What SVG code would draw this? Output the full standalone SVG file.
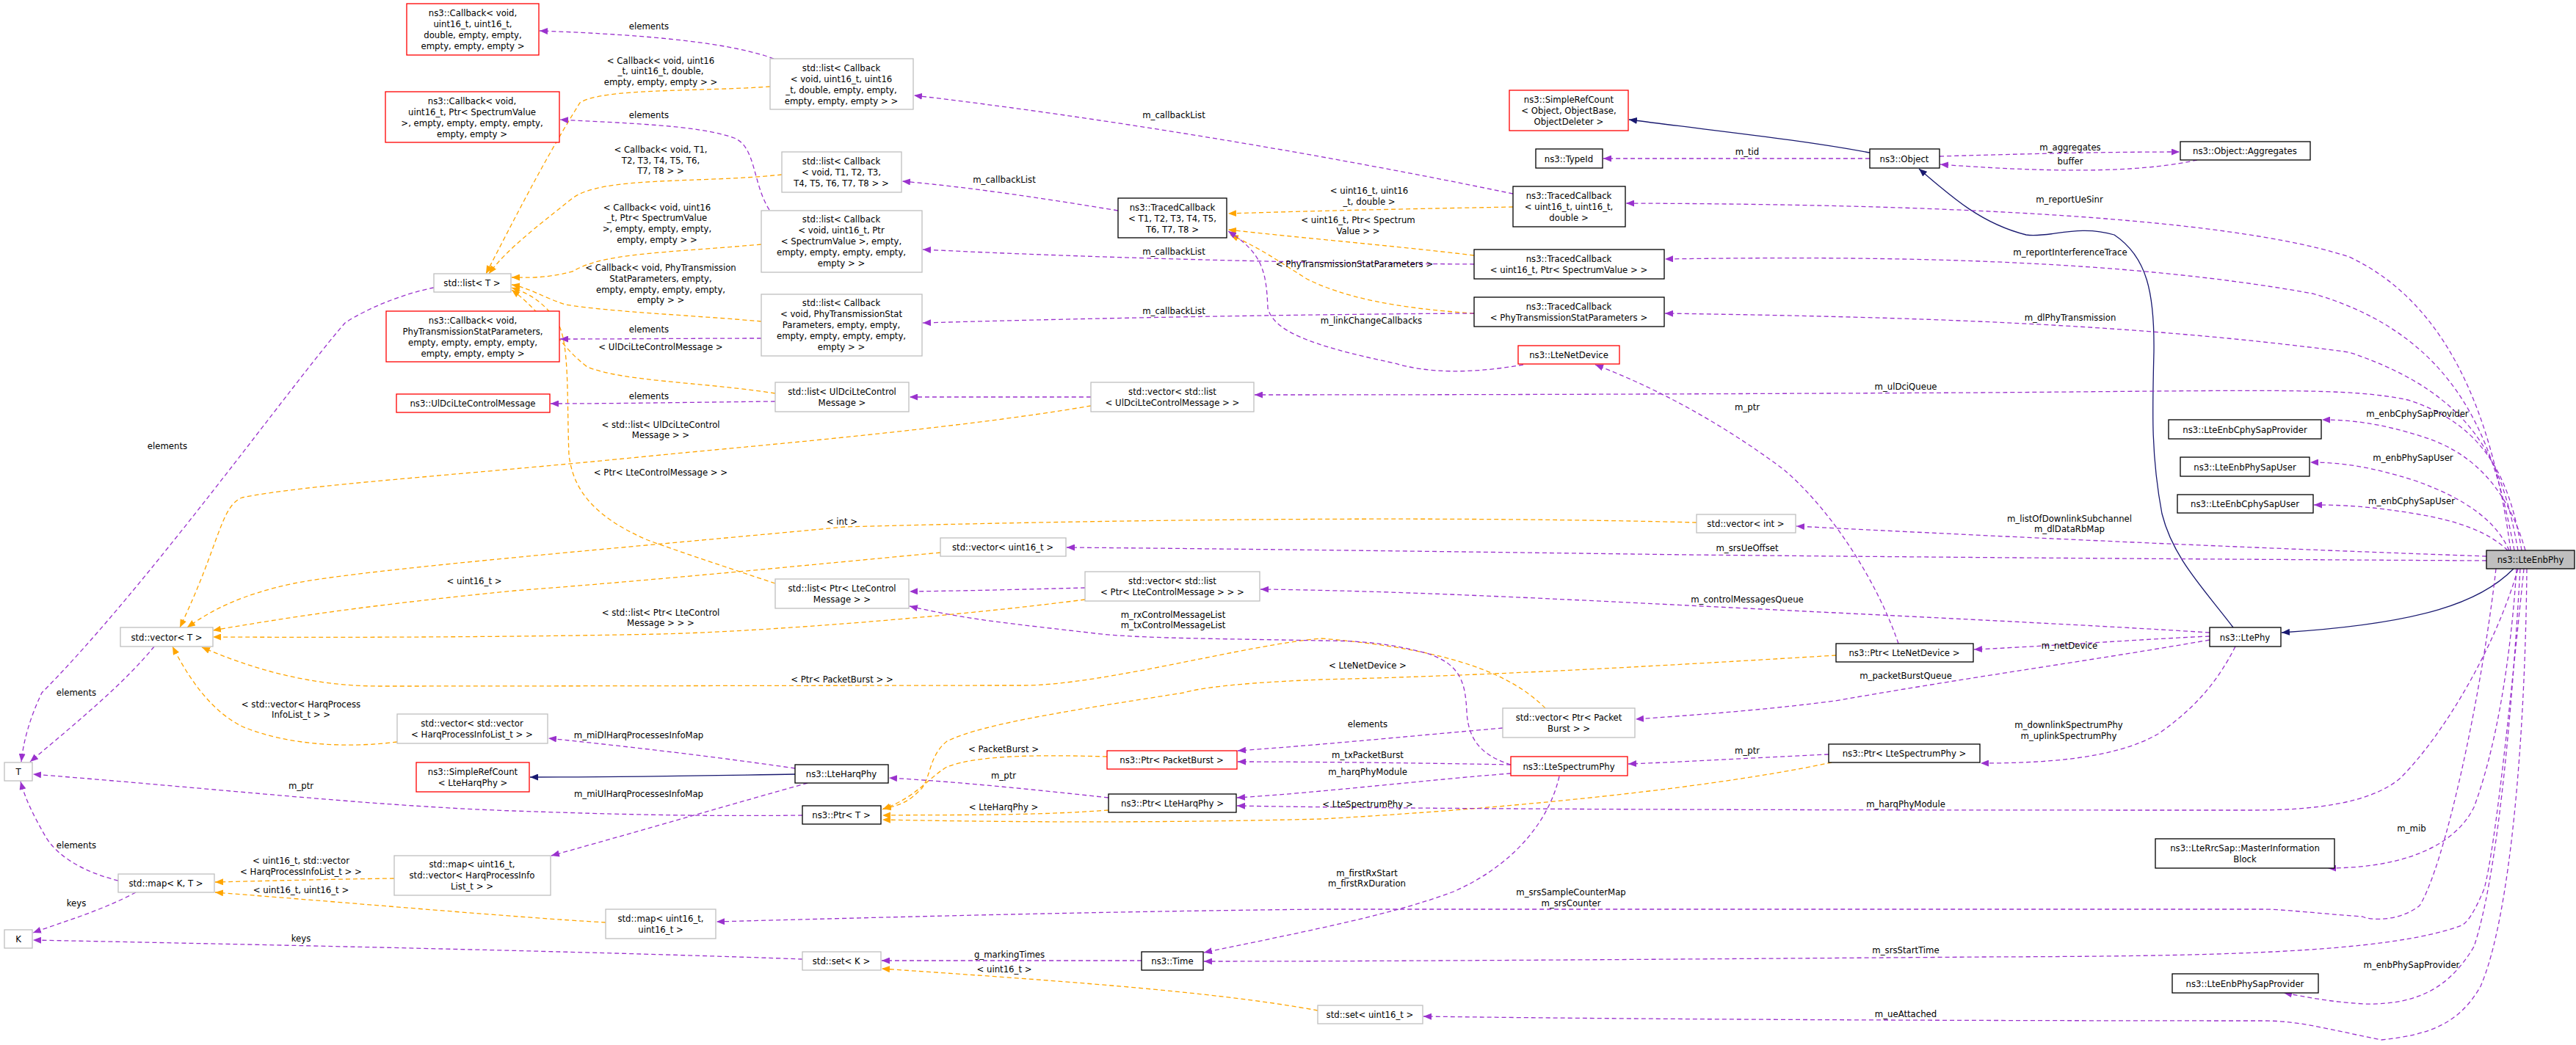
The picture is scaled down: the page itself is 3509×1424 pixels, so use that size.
<svg xmlns="http://www.w3.org/2000/svg" width="3509" height="1424" viewBox="0 0 3509 1424">
<style>
text{font-family:"DejaVu Sans Condensed","DejaVu Sans",sans-serif;font-size:13px;fill:#000;text-anchor:middle}
rect{fill:#fff;stroke:#000;stroke-width:1.3}
.g rect{stroke:#bfbfbf}
.r rect{stroke:#ff0000}
.sel rect{fill:#bfbfbf}
path{fill:none;stroke-width:1.3}
.p{stroke:#9a32cd;stroke-dasharray:6,4;marker-end:url(#mp)}
.o{stroke:#ffa500;stroke-dasharray:6,4;marker-end:url(#mo)}
.i{stroke:#191970;marker-end:url(#mi)}
</style>
<defs>
<marker id="mp" markerUnits="userSpaceOnUse" markerWidth="12" markerHeight="9" refX="11" refY="4.5" orient="auto"><path d="M0,0 L11,4.5 L0,9 z" style="fill:#9a32cd;stroke:none"/></marker>
<marker id="mo" markerUnits="userSpaceOnUse" markerWidth="12" markerHeight="9" refX="11" refY="4.5" orient="auto"><path d="M0,0 L11,4.5 L0,9 z" style="fill:#ffa500;stroke:none"/></marker>
<marker id="mi" markerUnits="userSpaceOnUse" markerWidth="12" markerHeight="9" refX="11" refY="4.5" orient="auto"><path d="M0,0 L11,4.5 L0,9 z" style="fill:#191970;stroke:none"/></marker>
</defs>
<rect x="0" y="0" width="3509" height="1424" style="fill:#fff;stroke:none"/>
<g id="edges">
<!-- template (orange) -->
<path class="o" d="M1049,118 C950,125 820,120 790,140 C740,220 700,300 662,373"/>
<path class="o" d="M1065,238 C950,250 820,240 780,270 C730,310 690,340 666,373"/>
<path class="o" d="M1037,333 C900,345 820,345 780,370 C740,380 720,378 697,378"/>
<path class="o" d="M1037,438 C950,430 830,425 770,415 C740,405 720,392 697,388"/>
<path class="o" d="M1056,536 C950,520 850,520 800,500 C760,470 745,430 697,395"/>
<path class="o" d="M1056,795 C980,770 900,743 880,735 C800,700 780,660 775,620 C772,540 776,470 760,440 C740,410 720,400 697,392"/>
<path class="o" d="M1486,553 C1300,585 1000,610 900,620 C600,650 420,660 330,678 C300,690 300,740 245,855"/>
<path class="o" d="M2311,712 C2000,704 1600,706 1150,718 C900,742 500,775 400,795 C330,810 290,830 255,855"/>
<path class="o" d="M1281,753 C1100,770 900,790 700,805 C500,825 400,840 290,859"/>
<path class="o" d="M1478,817 C1300,840 1050,860 900,864 C700,868 500,869 290,868"/>
<path class="o" d="M541,1011 C470,1020 390,1015 330,990 C290,970 260,930 235,881"/>
<path class="o" d="M2105,965 C2060,920 1980,885 1800,870 C1700,878 1500,934 1394,934 C1200,934 700,935 517,935 C420,935 340,910 275,882"/>
<path class="o" d="M537,1197 C450,1198 380,1200 293,1202"/>
<path class="o" d="M825,1257 C700,1250 500,1232 293,1216"/>
<path class="o" d="M1508,1031 C1400,1028 1330,1030 1290,1045 C1262,1062 1250,1085 1202,1103"/>
<path class="o" d="M1510,1104 C1400,1112 1300,1110 1202,1111"/>
<path class="o" d="M2501,893 C2300,905 2050,920 1800,926 C1700,930 1640,936 1612,944 C1480,965 1340,985 1290,1010 C1265,1030 1268,1060 1255,1075 C1240,1090 1230,1097 1203,1102"/>
<path class="o" d="M2495,1039 C2300,1080 2000,1105 1800,1116 C1600,1121 1400,1121 1202,1117"/>
<path class="o" d="M1795,1377 C1650,1350 1420,1335 1201,1320"/>
<path class="o" d="M2061,282 C1950,284 1800,287 1673,291"/>
<path class="o" d="M2008,348 C1900,335 1780,325 1673,313"/>
<path class="o" d="M2008,427 C1900,420 1830,405 1780,380 C1740,355 1720,340 1676,320"/>
<!-- usage (purple) -->
<path class="p" d="M1054,80 C1000,60 900,48 735,42"/>
<path class="p" d="M1048,286 C1025,250 1030,200 1000,188 C950,170 850,168 763,163"/>
<path class="p" d="M1037,461 C950,461 850,462 763,462"/>
<path class="p" d="M1056,547 C950,548 850,550 750,550"/>
<path class="p" d="M1486,541 C1400,541 1320,541 1239,541"/>
<path class="p" d="M1478,801 C1400,803 1320,805 1239,806"/>
<path class="p" d="M1523,287 C1420,270 1320,255 1229,247"/>
<path class="p" d="M2061,264 C1800,210 1500,160 1245,130"/>
<path class="p" d="M2008,360 C1800,359 1500,352 1257,340"/>
<path class="p" d="M2008,427 C1800,428 1500,433 1257,440"/>
<path class="p" d="M2075,497 C2000,510 1943,508 1900,495 C1780,470 1735,450 1727,420 C1725,370 1720,345 1673,315"/>
<path class="p" d="M2547,216 C2400,216 2300,216 2184,216"/>
<path class="i" d="M2547,208 C2450,190 2350,180 2219,163"/>
<path class="p" d="M2642,213 C2750,210 2850,207 2969,207"/>
<path class="p" d="M2993,218 C2930,232 2830,238 2643,224"/>
<path class="i" d="M3042,855 C3000,800 2960,760 2945,700 C2930,620 2932,560 2934,480 C2935,400 2925,350 2880,320 C2830,305 2790,325 2760,320 C2700,305 2660,270 2614,230"/>
<path class="i" d="M3424,775 C3380,820 3300,850 3108,862"/>
<path class="i" d="M1083,1055 C950,1057 850,1059 722,1059"/>
<path class="p" d="M3420,750 C3400,600 3350,420 3200,350 C3000,285 2500,278 2215,277"/>
<path class="p" d="M3425,750 C3400,620 3360,460 3150,400 C2900,355 2600,348 2268,353"/>
<path class="p" d="M3430,750 C3410,640 3380,540 3200,480 C2900,440 2600,432 2268,427"/>
<path class="p" d="M3435,750 C3420,660 3390,580 3280,545 C3200,528 3100,532 2700,535 C2300,537 2000,538 1709,538"/>
<path class="p" d="M3440,750 C3420,680 3380,620 3300,595 C3240,576 3200,572 3163,572"/>
<path class="p" d="M3418,750 C3400,710 3360,680 3290,655 C3230,636 3190,630 3147,630"/>
<path class="p" d="M3416,750 C3390,725 3350,710 3290,700 C3230,690 3190,688 3152,688"/>
<path class="p" d="M3387,758 C3100,748 2800,735 2447,717"/>
<path class="p" d="M3387,764 C3000,762 2700,760 2300,756 C2000,752 1700,748 1453,746"/>
<path class="p" d="M3010,862 C2850,852 2700,845 2400,830 C2100,815 1900,805 1717,803"/>
<path class="p" d="M3010,867 C2900,872 2800,880 2689,885"/>
<path class="p" d="M3010,872 C2850,900 2700,920 2500,955 C2400,968 2300,975 2228,980"/>
<path class="p" d="M3045,881 C3020,930 2990,965 2940,1000 C2880,1035 2780,1040 2698,1040"/>
<path class="p" d="M3430,775 C3400,880 3330,1000 3270,1060 C3230,1095 3150,1104 3070,1104 C2700,1104 2000,1104 1685,1098"/>
<path class="p" d="M2058,1054 C1950,1062 1800,1080 1685,1087"/>
<path class="p" d="M2058,1042 C1950,1040 1800,1038 1686,1038"/>
<path class="p" d="M2047,992 C1900,1005 1800,1015 1686,1023"/>
<path class="p" d="M2058,1042 C2020,1030 2000,1010 1998,970 C1996,930 1990,905 1943,890 C1890,876 1850,873 1800,873 C1650,870 1550,870 1491,863 C1380,850 1320,845 1239,826"/>
<path class="p" d="M2124,1058 C2110,1120 2060,1180 1980,1215 C1900,1245 1800,1265 1640,1298"/>
<path class="p" d="M2491,1028 C2400,1032 2300,1038 2218,1041"/>
<path class="p" d="M2586,877 C2560,800 2500,700 2430,640 C2350,580 2260,530 2173,497"/>
<path class="p" d="M3400,775 C3380,950 3330,1180 3296,1234 C3270,1255 3230,1255 3218,1249 C3160,1245 3110,1239 3083,1239 C2800,1239 2300,1239 1800,1239 C1500,1242 1200,1250 976,1256"/>
<path class="p" d="M3438,775 C3420,950 3400,1150 3384,1211 C3370,1245 3360,1258 3353,1261 C3250,1300 3000,1303 2700,1304 C2300,1307 1900,1310 1640,1310"/>
<path class="p" d="M3428,775 C3420,900 3400,1020 3370,1100 C3340,1160 3260,1183 3171,1183"/>
<path class="p" d="M3433,775 C3420,1000 3400,1200 3370,1290 C3340,1340 3300,1370 3220,1368 C3170,1365 3140,1358 3111,1353"/>
<path class="p" d="M3442,775 C3440,1000 3420,1250 3379,1344 C3350,1395 3310,1410 3244,1417 C3160,1400 3130,1391 3083,1391 C2800,1391 2300,1390 1939,1385"/>
<path class="p" d="M1083,1047 C1000,1035 900,1022 747,1006"/>
<path class="p" d="M1100,1067 C1000,1095 880,1130 751,1166"/>
<path class="p" d="M1093,1111 C1000,1112 900,1112 700,1105 C500,1098 300,1075 45,1055"/>
<path class="p" d="M1510,1087 C1400,1075 1300,1065 1211,1060"/>
<path class="p" d="M591,392 C550,400 500,420 470,440 C400,520 200,800 57,944 C40,980 32,1010 29,1038"/>
<path class="p" d="M210,881 C170,930 110,980 41,1038"/>
<path class="p" d="M161,1200 C120,1190 80,1170 62,1140 C45,1110 35,1090 28,1065"/>
<path class="p" d="M185,1216 C140,1240 90,1255 45,1271"/>
<path class="p" d="M1093,1307 C900,1300 600,1292 45,1281"/>
<path class="p" d="M1555,1309 C1450,1309 1300,1309 1201,1309"/>
</g>
<g id="labels">
<text x="884" y="40">elements</text>
<text x="884" y="161">elements</text>
<text x="884" y="453">elements</text>
<text x="884" y="544">elements</text>
<text x="900" y="87">&lt; Callback&lt; void, uint16</text><text x="900" y="101">_t, uint16_t, double,</text><text x="900" y="116">empty, empty, empty &gt; &gt;</text>
<text x="900" y="208">&lt; Callback&lt; void, T1,</text><text x="900" y="223">T2, T3, T4, T5, T6,</text><text x="900" y="237">T7, T8 &gt; &gt;</text>
<text x="895" y="287">&lt; Callback&lt; void, uint16</text><text x="895" y="301">_t, Ptr&lt; SpectrumValue</text><text x="895" y="316">&gt;, empty, empty, empty,</text><text x="895" y="331">empty, empty &gt; &gt;</text>
<text x="900" y="369">&lt; Callback&lt; void, PhyTransmission</text><text x="900" y="384">StatParameters, empty,</text><text x="900" y="399">empty, empty, empty, empty,</text><text x="900" y="413">empty &gt; &gt;</text>
<text x="900" y="477">&lt; UlDciLteControlMessage &gt;</text>
<text x="900" y="583">&lt; std::list&lt; UlDciLteControl</text><text x="900" y="597">Message &gt; &gt;</text>
<text x="900" y="648">&lt; Ptr&lt; LteControlMessage &gt; &gt;</text>
<text x="1147" y="715">&lt; int &gt;</text>
<text x="646" y="796">&lt; uint16_t &gt;</text>
<text x="900" y="839">&lt; std::list&lt; Ptr&lt; LteControl</text><text x="900" y="853">Message &gt; &gt; &gt;</text>
<text x="1147" y="930">&lt; Ptr&lt; PacketBurst &gt; &gt;</text>
<text x="410" y="964">&lt; std::vector&lt; HarqProcess</text><text x="410" y="978">InfoList_t &gt; &gt;</text>
<text x="410" y="1177">&lt; uint16_t, std::vector</text><text x="410" y="1192">&lt; HarqProcessInfoList_t &gt; &gt;</text>
<text x="410" y="1217">&lt; uint16_t, uint16_t &gt;</text>
<text x="1367" y="1025">&lt; PacketBurst &gt;</text>
<text x="1367" y="1104">&lt; LteHarqPhy &gt;</text>
<text x="1863" y="911">&lt; LteNetDevice &gt;</text>
<text x="1863" y="1100">&lt; LteSpectrumPhy &gt;</text>
<text x="1368" y="1325">&lt; uint16_t &gt;</text>
<text x="1865" y="264">&lt; uint16_t, uint16</text><text x="1865" y="279">_t, double &gt;</text>
<text x="1850" y="304">&lt; uint16_t, Ptr&lt; Spectrum</text><text x="1850" y="319">Value &gt; &gt;</text>
<text x="1845" y="364">&lt; PhyTransmissionStatParameters &gt;</text>
<text x="1368" y="249">m_callbackList</text>
<text x="1599" y="161">m_callbackList</text>
<text x="1599" y="347">m_callbackList</text>
<text x="1599" y="428">m_callbackList</text>
<text x="1868" y="441">m_linkChangeCallbacks</text>
<text x="2380" y="211">m_tid</text>
<text x="2820" y="205">m_aggregates</text>
<text x="2820" y="224">buffer</text>
<text x="2819" y="276">m_reportUeSinr</text>
<text x="2820" y="348">m_reportInterferenceTrace</text>
<text x="2820" y="437">m_dlPhyTransmission</text>
<text x="2596" y="531">m_ulDciQueue</text>
<text x="3293" y="568">m_enbCphySapProvider</text>
<text x="3287" y="628">m_enbPhySapUser</text>
<text x="3285" y="687">m_enbCphySapUser</text>
<text x="2819" y="711">m_listOfDownlinkSubchannel</text><text x="2819" y="725">m_dlDataRbMap</text>
<text x="2380" y="751">m_srsUeOffset</text>
<text x="2380" y="821">m_controlMessagesQueue</text>
<text x="2819" y="884">m_netDevice</text>
<text x="2596" y="925">m_packetBurstQueue</text>
<text x="2818" y="992">m_downlinkSpectrumPhy</text><text x="2818" y="1007">m_uplinkSpectrumPhy</text>
<text x="2596" y="1100">m_harqPhyModule</text>
<text x="1863" y="1056">m_harqPhyModule</text>
<text x="1863" y="1033">m_txPacketBurst</text>
<text x="1863" y="991">elements</text>
<text x="1598" y="842">m_rxControlMessageList</text><text x="1598" y="856">m_txControlMessageList</text>
<text x="1862" y="1194">m_firstRxStart</text><text x="1862" y="1208">m_firstRxDuration</text>
<text x="2380" y="1027">m_ptr</text>
<text x="2380" y="559">m_ptr</text>
<text x="2140" y="1220">m_srsSampleCounterMap</text><text x="2140" y="1235">m_srsCounter</text>
<text x="2596" y="1299">m_srsStartTime</text>
<text x="3285" y="1133">m_mib</text>
<text x="3285" y="1319">m_enbPhySapProvider</text>
<text x="2596" y="1386">m_ueAttached</text>
<text x="870" y="1006">m_miDlHarqProcessesInfoMap</text>
<text x="870" y="1086">m_miUlHarqProcessesInfoMap</text>
<text x="410" y="1075">m_ptr</text>
<text x="1367" y="1061">m_ptr</text>
<text x="228" y="612">elements</text>
<text x="104" y="948">elements</text>
<text x="104" y="1156">elements</text>
<text x="104" y="1235">keys</text>
<text x="410" y="1283">keys</text>
<text x="1375" y="1305">g_markingTimes</text>
</g>
<g id="n1" class="r"><rect x="554" y="5" width="180" height="70"/><text x="644" y="22">ns3::Callback&lt; void,</text><text x="644" y="37">uint16_t, uint16_t,</text><text x="644" y="52">double, empty, empty,</text><text x="644" y="67">empty, empty, empty &gt;</text></g>
<g id="n2" class="r"><rect x="525" y="125" width="237" height="69"/><text x="643" y="142">ns3::Callback&lt; void,</text><text x="643" y="157">uint16_t, Ptr&lt; SpectrumValue</text><text x="643" y="172">&gt;, empty, empty, empty, empty,</text><text x="643" y="187">empty, empty &gt;</text></g>
<g id="n3" class="g"><rect x="591" y="373" width="105" height="25"/><text x="643" y="390">std::list&lt; T &gt;</text></g>
<g id="n4" class="r"><rect x="526" y="424" width="236" height="69"/><text x="644" y="441">ns3::Callback&lt; void,</text><text x="644" y="456">PhyTransmissionStatParameters,</text><text x="644" y="471">empty, empty, empty, empty,</text><text x="644" y="486">empty, empty, empty &gt;</text></g>
<g id="n5" class="r"><rect x="540" y="537" width="209" height="25"/><text x="644" y="554">ns3::UlDciLteControlMessage</text></g>
<g id="n6" class="g"><rect x="164" y="855" width="126" height="26"/><text x="227" y="873">std::vector&lt; T &gt;</text></g>
<g id="n7" class="g"><rect x="6" y="1039" width="38" height="25"/><text x="25" y="1056">T</text></g>
<g id="n8" class="g"><rect x="6" y="1267" width="38" height="25"/><text x="25" y="1284">K</text></g>
<g id="n9" class="g"><rect x="161" y="1191" width="131" height="25"/><text x="226" y="1208">std::map&lt; K, T &gt;</text></g>
<g id="n10" class="g"><rect x="541" y="973" width="205" height="40"/><text x="643" y="990">std::vector&lt; std::vector</text><text x="643" y="1005">&lt; HarqProcessInfoList_t &gt; &gt;</text></g>
<g id="n11" class="r"><rect x="567" y="1039" width="154" height="40"/><text x="644" y="1056">ns3::SimpleRefCount</text><text x="644" y="1071">&lt; LteHarqPhy &gt;</text></g>
<g id="n12" class="g"><rect x="537" y="1166" width="213" height="54"/><text x="643" y="1182">std::map&lt; uint16_t,</text><text x="643" y="1197">std::vector&lt; HarqProcessInfo</text><text x="643" y="1212">List_t &gt; &gt;</text></g>
<g id="n13" class="g"><rect x="825" y="1239" width="150" height="40"/><text x="900" y="1256">std::map&lt; uint16_t,</text><text x="900" y="1271">uint16_t &gt;</text></g>
<g id="n14" class="g"><rect x="1049" y="80" width="195" height="69"/><text x="1146" y="97">std::list&lt; Callback</text><text x="1146" y="112">&lt; void, uint16_t, uint16</text><text x="1146" y="127">_t, double, empty, empty,</text><text x="1146" y="142">empty, empty, empty &gt; &gt;</text></g>
<g id="n15" class="g"><rect x="1065" y="207" width="163" height="55"/><text x="1146" y="224">std::list&lt; Callback</text><text x="1146" y="239">&lt; void, T1, T2, T3,</text><text x="1146" y="254">T4, T5, T6, T7, T8 &gt; &gt;</text></g>
<g id="n16" class="g"><rect x="1037" y="287" width="219" height="84"/><text x="1146" y="303">std::list&lt; Callback</text><text x="1146" y="318">&lt; void, uint16_t, Ptr</text><text x="1146" y="333">&lt; SpectrumValue &gt;, empty,</text><text x="1146" y="348">empty, empty, empty, empty,</text><text x="1146" y="363">empty &gt; &gt;</text></g>
<g id="n17" class="g"><rect x="1037" y="401" width="219" height="84"/><text x="1146" y="417">std::list&lt; Callback</text><text x="1146" y="432">&lt; void, PhyTransmissionStat</text><text x="1146" y="447">Parameters, empty, empty,</text><text x="1146" y="462">empty, empty, empty, empty,</text><text x="1146" y="477">empty &gt; &gt;</text></g>
<g id="n18" class="g"><rect x="1056" y="521" width="182" height="40"/><text x="1147" y="538">std::list&lt; UlDciLteControl</text><text x="1147" y="553">Message &gt;</text></g>
<g id="n19" class="g"><rect x="1486" y="521" width="222" height="40"/><text x="1597" y="538">std::vector&lt; std::list</text><text x="1597" y="553">&lt; UlDciLteControlMessage &gt; &gt;</text></g>
<g id="n20" class="g"><rect x="1281" y="733" width="171" height="25"/><text x="1366" y="750">std::vector&lt; uint16_t &gt;</text></g>
<g id="n21" class="g"><rect x="1056" y="789" width="182" height="40"/><text x="1147" y="806">std::list&lt; Ptr&lt; LteControl</text><text x="1147" y="821">Message &gt; &gt;</text></g>
<g id="n22" class="g"><rect x="1478" y="779" width="238" height="40"/><text x="1597" y="796">std::vector&lt; std::list</text><text x="1597" y="811">&lt; Ptr&lt; LteControlMessage &gt; &gt; &gt;</text></g>
<g id="n23"><rect x="1523" y="270" width="148" height="54"/><text x="1597" y="287">ns3::TracedCallback</text><text x="1597" y="302">&lt; T1, T2, T3, T4, T5,</text><text x="1597" y="317">T6, T7, T8 &gt;</text></g>
<g id="n24" class="r"><rect x="2056" y="123" width="162" height="55"/><text x="2137" y="140">ns3::SimpleRefCount</text><text x="2137" y="155">&lt; Object, ObjectBase,</text><text x="2137" y="170">ObjectDeleter &gt;</text></g>
<g id="n25"><rect x="2092" y="203" width="91" height="26"/><text x="2137" y="221">ns3::TypeId</text></g>
<g id="n26"><rect x="2547" y="203" width="95" height="26"/><text x="2594" y="221">ns3::Object</text></g>
<g id="n27"><rect x="2970" y="193" width="177" height="25"/><text x="3058" y="210">ns3::Object::Aggregates</text></g>
<g id="n28"><rect x="2061" y="254" width="153" height="55"/><text x="2137" y="271">ns3::TracedCallback</text><text x="2137" y="286">&lt; uint16_t, uint16_t,</text><text x="2137" y="301">double &gt;</text></g>
<g id="n29"><rect x="2008" y="340" width="259" height="40"/><text x="2137" y="357">ns3::TracedCallback</text><text x="2137" y="372">&lt; uint16_t, Ptr&lt; SpectrumValue &gt; &gt;</text></g>
<g id="n30"><rect x="2008" y="405" width="259" height="40"/><text x="2137" y="422">ns3::TracedCallback</text><text x="2137" y="437">&lt; PhyTransmissionStatParameters &gt;</text></g>
<g id="n31" class="r"><rect x="2068" y="471" width="138" height="25"/><text x="2137" y="488">ns3::LteNetDevice</text></g>
<g id="n32"><rect x="2954" y="572" width="208" height="26"/><text x="3058" y="590">ns3::LteEnbCphySapProvider</text></g>
<g id="n33"><rect x="2970" y="623" width="176" height="26"/><text x="3058" y="641">ns3::LteEnbPhySapUser</text></g>
<g id="n34"><rect x="2966" y="674" width="185" height="25"/><text x="3058" y="691">ns3::LteEnbCphySapUser</text></g>
<g id="n35" class="sel"><rect x="3387" y="750" width="120" height="25"/><text x="3447" y="767">ns3::LteEnbPhy</text></g>
<g id="n36"><rect x="3010" y="855" width="97" height="26"/><text x="3058" y="873">ns3::LtePhy</text></g>
<g id="n37"><rect x="2936" y="1143" width="244" height="40"/><text x="3058" y="1160">ns3::LteRrcSap::MasterInformation</text><text x="3058" y="1175">Block</text></g>
<g id="n38"><rect x="2959" y="1327" width="199" height="26"/><text x="3058" y="1345">ns3::LteEnbPhySapProvider</text></g>
<g id="n39" class="g"><rect x="2311" y="701" width="135" height="25"/><text x="2378" y="718">std::vector&lt; int &gt;</text></g>
<g id="n40"><rect x="2501" y="877" width="187" height="25"/><text x="2594" y="894">ns3::Ptr&lt; LteNetDevice &gt;</text></g>
<g id="n41" class="g"><rect x="2047" y="965" width="180" height="40"/><text x="2137" y="982">std::vector&lt; Ptr&lt; Packet</text><text x="2137" y="997">Burst &gt; &gt;</text></g>
<g id="n42" class="r"><rect x="2058" y="1031" width="159" height="26"/><text x="2137" y="1049">ns3::LteSpectrumPhy</text></g>
<g id="n43"><rect x="2491" y="1014" width="206" height="25"/><text x="2594" y="1031">ns3::Ptr&lt; LteSpectrumPhy &gt;</text></g>
<g id="n44" class="g"><rect x="1795" y="1370" width="143" height="25"/><text x="1866" y="1387">std::set&lt; uint16_t &gt;</text></g>
<g id="n45"><rect x="1083" y="1042" width="127" height="25"/><text x="1146" y="1059">ns3::LteHarqPhy</text></g>
<g id="n46"><rect x="1093" y="1098" width="107" height="25"/><text x="1146" y="1115">ns3::Ptr&lt; T &gt;</text></g>
<g id="n47" class="r"><rect x="1508" y="1023" width="177" height="25"/><text x="1596" y="1040">ns3::Ptr&lt; PacketBurst &gt;</text></g>
<g id="n48"><rect x="1510" y="1082" width="174" height="25"/><text x="1597" y="1099">ns3::Ptr&lt; LteHarqPhy &gt;</text></g>
<g id="n49" class="g"><rect x="1093" y="1297" width="107" height="25"/><text x="1146" y="1314">std::set&lt; K &gt;</text></g>
<g id="n50"><rect x="1555" y="1297" width="84" height="25"/><text x="1597" y="1314">ns3::Time</text></g>
</svg>
